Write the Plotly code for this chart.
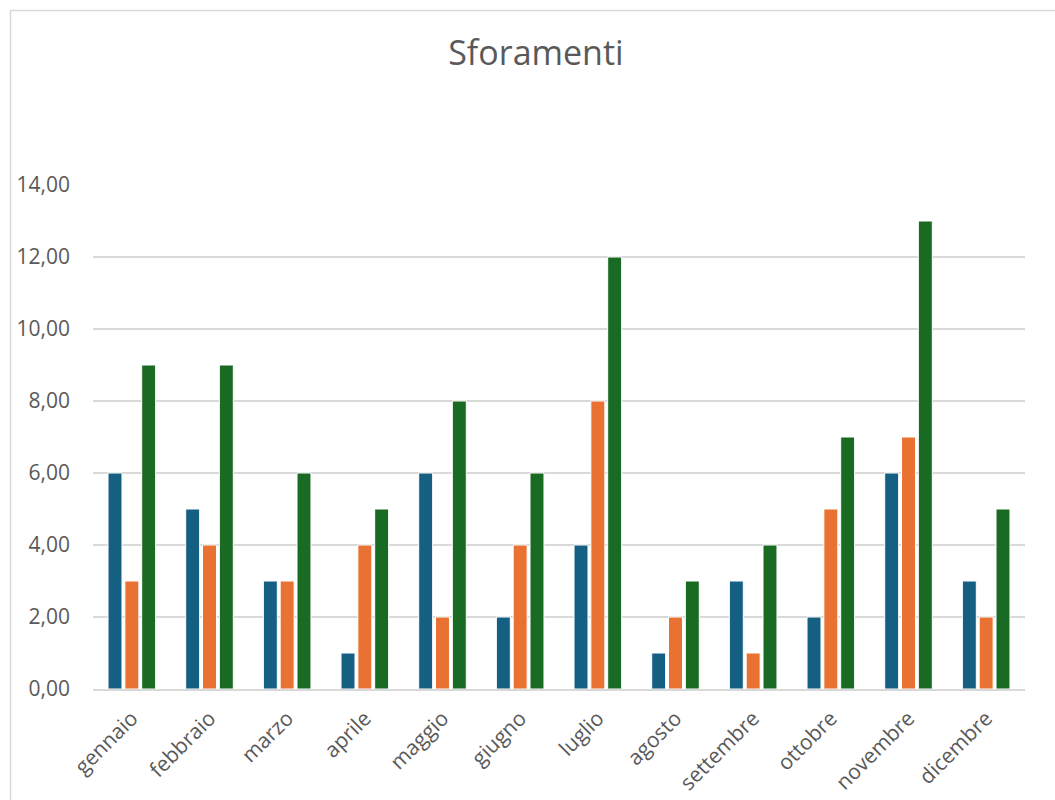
import plotly.graph_objects as go

months = ["gennaio", "febbraio", "marzo", "aprile", "maggio", "giugno",
          "luglio", "agosto", "settembre", "ottobre", "novembre", "dicembre"]
serie1 = [6, 5, 3, 1, 6, 2, 4, 1, 3, 2, 6, 3]
serie2 = [3, 4, 3, 4, 2, 4, 8, 2, 1, 5, 7, 2]
serie3 = [9, 9, 6, 5, 8, 6, 12, 3, 4, 7, 13, 5]
names = ["Serie 1", "Serie 2", "Serie 3"]
colors = ["#156082", "#E97132", "#196B24"]

W, H = 1055, 800
L, R, T, B = 93, 30, 185, 111

fig = go.Figure()
for name, vals, col in zip(names, [serie1, serie2, serie3], colors):
    fig.add_trace(go.Bar(x=months, y=vals, name=name, marker_color=col,
                         marker_line=dict(color="white", width=1)))

pw = W - L - R
ph = H - T - B
def px_x(p):
    return (p - L) / pw
def px_y(p):
    return (H - B - p) / ph

fig.update_layout(
    width=W, height=H,
    margin=dict(l=L, r=R, t=T, b=B, autoexpand=False),
    paper_bgcolor="white", plot_bgcolor="white",
    barmode="group", bargap=0.35, bargroupgap=0.17,
    showlegend=False,
    separators=",.",
    title=dict(text="Sforamenti", x=0.508, xanchor="center", y=1 - 53 / H, yanchor="middle",
               font=dict(family="Open Sans, sans-serif", size=34, color="#595959")),
    font=dict(family="Open Sans, sans-serif", size=21, color="#595959"),
    xaxis=dict(tickangle=-45, showgrid=False, showline=True, linecolor="#D9D9D9", linewidth=1.5,
               automargin=False, ticks="", ticklabelstandoff=7,
               tickfont=dict(size=21, color="#595959")),
    yaxis=dict(range=[0, 14], dtick=2, tickformat=".2f", showgrid=True, gridcolor="#D9D9D9",
               gridwidth=1.5, zeroline=False, showline=False, ticks="", ticklabelstandoff=22,
               automargin=False, tickfont=dict(size=21, color="#595959")),
    shapes=[dict(type="rect", xref="paper", yref="paper",
                 x0=px_x(10.5), x1=px_x(1070), y0=px_y(10.5), y1=px_y(820),
                 line=dict(color="#D9D9D9", width=1.5), fillcolor="rgba(0,0,0,0)", layer="below")],
)

fig.write_html("out.html")
